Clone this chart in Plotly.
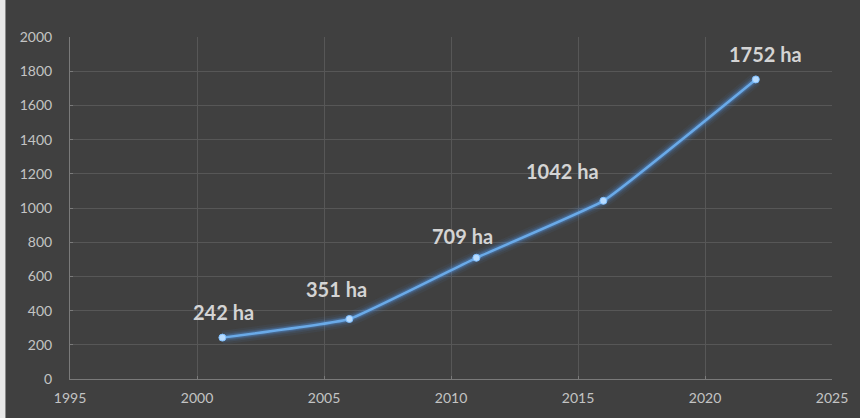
import plotly.graph_objects as go

years = [2001, 2006, 2011, 2016, 2022]
area_ha = [242, 351, 709, 1042, 1752]
labels = [f"{v} ha" for v in area_ha]
x_ticks = [1995, 2000, 2005, 2010, 2015, 2020, 2025]
y_ticks = list(range(0, 2001, 200))

# label offsets in pixels (style)
label_dx = [1, -13, -14, -41, 10]
label_dy = [-26, -30, -22, -30, -25]

BG = "#404040"
GRID = "#575757"
TXT = "#c4c4c4"
LINE = "#6aaae8"
FONT = "Lato, Open Sans, sans-serif"

fig = go.Figure()

# glow layers
for w, a in [(14, 0.06), (10, 0.10), (7, 0.16), (5, 0.25)]:
    fig.add_trace(go.Scatter(x=years, y=area_ha, mode="lines",
                             line=dict(color=f"rgba(80,150,230,{a})", width=w, shape="spline", smoothing=0.3),
                             hoverinfo="skip", showlegend=False))
fig.add_trace(go.Scatter(x=years, y=area_ha, mode="lines+markers",
                         line=dict(color=LINE, width=2.5, shape="spline", smoothing=0.3),
                         marker=dict(size=7, color="#b8dcff", line=dict(color="#7fbfff", width=1)),
                         showlegend=False))

for x, y, t, dx, dy in zip(years, area_ha, labels, label_dx, label_dy):
    fig.add_annotation(x=x, y=y, text=f"<b>{t}</b>", showarrow=False,
                       xshift=dx, yshift=-dy,
                       font=dict(family=FONT, size=20, color="#d4d4d4"))

OFF = 6  # page offset of the figure (left light border)
L, R, T, B = 70 - OFF, 27, 37, 37

fig.update_layout(
    width=860 - OFF, height=418,
    margin=dict(l=L, r=R, t=T, b=B),
    paper_bgcolor=BG, plot_bgcolor=BG,
    font=dict(family=FONT, size=14, color=TXT),
    xaxis=dict(range=[1995, 2025], tickvals=x_ticks, showgrid=True, gridcolor=GRID, gridwidth=1,
               zeroline=False, showline=True, linecolor="#7a7a7a", linewidth=1,
               ticks="inside", ticklen=3, tickcolor="#7a7a7a", ticklabelstandoff=6,
               tickfont=dict(size=14, color=TXT)),
    yaxis=dict(range=[0, 2000], tickvals=y_ticks, showgrid=True, gridcolor=GRID, gridwidth=1,
               zeroline=False, showline=True, linecolor="#7a7a7a", linewidth=1,
               ticks="inside", ticklen=3, tickcolor="#7a7a7a", ticklabelstandoff=14,
               tickfont=dict(size=14, color=TXT)),
)

fig.write_html("out.html", config={"displayModeBar": False})
with open("out.html", "r", encoding="utf-8") as f:
    html = f.read()
css = ("<style>html,body{margin:0;padding:0;overflow:hidden;background:#e8e8e8;}"
       "body{border-left:5px solid #e8e8e8;}"
       ".plotly-graph-div{border-left:1px solid #8a8a8a;}</style>")
html = html.replace("<head>", "<head>" + css, 1)
with open("out.html", "w", encoding="utf-8") as f:
    f.write(html)
